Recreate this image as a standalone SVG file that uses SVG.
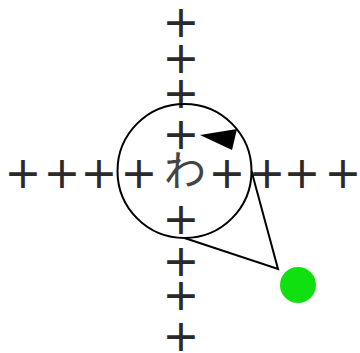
<svg xmlns="http://www.w3.org/2000/svg" width="360" height="353" viewBox="0 0 360 353">
<style>
.p{font-family:"DejaVu Sans",sans-serif;font-size:44px;fill:#2a2a2a;text-anchor:middle}
.k{font-family:"Noto Sans CJK JP","Noto Sans CJK SC",sans-serif;font-size:42px;fill:#444;text-anchor:middle}
</style>
<rect width="360" height="353" fill="#fff"/>
<g id="grid">
<text class="p" x="181" y="37">+</text>
<text class="p" x="181" y="73">+</text>
<text class="p" x="181" y="108">+</text>
<text class="p" x="181" y="149">+</text>
<text class="p" x="181" y="234">+</text>
<text class="p" x="181" y="276">+</text>
<text class="p" x="181" y="310">+</text>
<text class="p" x="181" y="351">+</text>
<text class="p" x="23" y="188">+</text>
<text class="p" x="62" y="188">+</text>
<text class="p" x="99" y="188">+</text>
<text class="p" x="139" y="188">+</text>
<text class="p" x="227" y="188">+</text>
<text class="p" x="267" y="188">+</text>
<text class="p" x="302" y="188">+</text>
<text class="p" x="343" y="188">+</text>
</g>
<g id="label"><text class="k" x="185" y="186">わ</text></g>
<g id="bubble">
<circle cx="184.5" cy="171" r="67" fill="none" stroke="#000" stroke-width="2"/>
</g>
<g id="connectors">
<path d="M251.5,171 L278,269 L184.5,238" fill="none" stroke="#000" stroke-width="2" stroke-linejoin="miter"/>
</g>
<g id="pointer"><polygon points="200,135 237,129 232,150" fill="#000"/></g>
<g id="dot"><circle cx="298" cy="285" r="18" fill="#10e010"/></g>
</svg>
